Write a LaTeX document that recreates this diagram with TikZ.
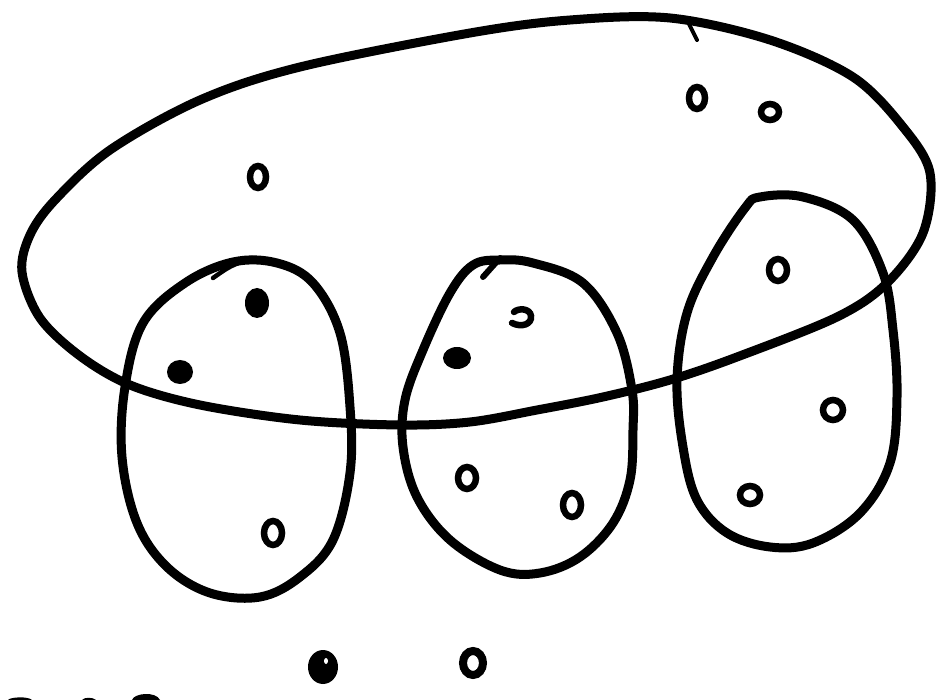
\documentclass[tikz,border=0pt]{standalone}
\begin{document}
\begin{tikzpicture}[x=1pt,y=-1pt,
  stroke/.style={line width=9pt, line cap=round, line join=round},
  ring/.style={line width=6.5pt},
  blob/.style={fill=black}]
\useasboundingbox (0,0) rectangle (938,700);
\fill[white] (0,0) rectangle (938,700);
% big ellipse
\draw[stroke] plot[smooth cycle, tension=0.55] coordinates {
 (22,272) (40,318) (80,356) (130,385) (200,405) (300,420) (400,425) (470,422)
 (537,410) (603,397) (670,380) (737,357) (837,317) (887,283) (923,233) (930,173)
 (903,127) (853,77) (770,40) (670,18) (570,20) (470,33) (300,67) (200,100)
 (110,150) (55,200) (30,235)};
\draw[line width=4pt, line cap=round] (688,22) -- (697,40);
% left oval
\draw[stroke] plot[smooth cycle, tension=0.6] coordinates {
 (233,262) (277,263) (313,283) (340,333) (350,407) (350,473) (333,540) (300,577)
 (260,597) (210,593) (167,567) (137,523) (122,457) (125,387) (143,323) (185,283)};
\draw[line width=4.5pt, line cap=round] (213,278) .. controls (230,266) .. (252,258);
% middle oval
\draw[stroke] plot[smooth cycle, tension=0.6] coordinates {
 (500,260) (533,263) (583,283) (617,333) (632,390) (633,430) (630,480) (613,523)
 (580,557) (540,573) (500,570) (450,540) (417,497) (403,447) (405,400) (423,350)
 (450,293) (473,265)};
\draw[line width=6pt, line cap=round] (483,277) -- (500,258);
% right oval
\draw[stroke] plot[smooth cycle, tension=0.6] coordinates {
 (760,197) (803,197) (853,220) (883,273) (893,330) (897,397) (890,463) (860,513)
 (813,543) (770,547) (727,533) (697,500) (683,447) (677,380) (687,313) (713,257)
 (745,208)};
% dots in big ellipse
\draw[ring] (258,177) ellipse (8 and 11);
\draw[ring] (697,98) ellipse (8 and 11);
\draw[ring] (770,112) ellipse (9 and 8);
% left oval dots
\fill[blob] (257,303) ellipse (12 and 15);
\fill[blob] (180,372) ellipse (13 and 12);
\draw[ring] (273,533) ellipse (9 and 12);
% middle oval dots
\draw[line width=6.5pt, line cap=round] (512,323) .. controls (522,328) and (532,324) .. (531,316) .. controls (530,308) and (518,308) .. (514,312);
\fill[blob] (457,358) ellipse (14 and 11);
\draw[ring] (467,478) ellipse (9 and 11);
\draw[ring] (572,505) ellipse (9 and 12);
% right oval dots
\draw[ring] (778,270) ellipse (9 and 11);
\draw[ring] (833,410) ellipse (10 and 10);
\draw[ring] (750,495) ellipse (10 and 9);
% bottom dots
\fill[blob] (323,667) ellipse (15 and 17);
\fill[white] (326,661) ellipse (2 and 3);
\draw[line width=8pt] (473,663) ellipse (10 and 12);
% bottom-left fragments
\fill[blob] (8,700) .. controls (10,697) and (28,696) .. (32,700) -- cycle;
\fill[blob] (82,700) .. controls (84,697) and (93,697) .. (96,700) -- cycle;
\fill[blob] (132,700) .. controls (134,693) and (156,691) .. (160,700) -- cycle;
\end{tikzpicture}
\end{document}
